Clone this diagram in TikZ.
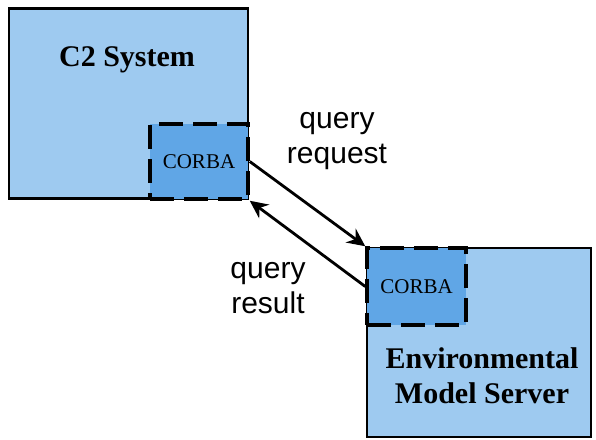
\documentclass[tikz,border=0pt]{standalone}
\usepackage{fontspec}
\setmainfont{Liberation Serif}
\setsansfont{Liberation Sans}
\usetikzlibrary{arrows.meta, positioning}
\definecolor{boxblue}{RGB}{158, 202, 240}
\definecolor{corbablue}{RGB}{96, 166, 230}

\tikzset{
  sysbox/.style={draw=black, line width=2.8pt, fill=boxblue, inner sep=0pt},
  syslabel/.style={font=\bfseries\fontsize{30}{35}\selectfont, align=center},
  corbabox/.style={draw=black, line width=3.5pt, dash pattern=on 24pt off 10pt,
    fill=corbablue, inner sep=0pt, font=\fontsize{21}{24}\selectfont},
  flow/.style={-{Stealth[length=18pt, width=17pt, inset=6pt]}, line width=2.8pt},
  flowlabel/.style={font=\sffamily\fontsize{30}{35}\selectfont, align=center}
}

\begin{document}
\begin{tikzpicture}[x=1pt, y=-1pt]
  % 画布与参考图同尺寸
  \useasboundingbox (0, 0) rectangle (596, 439);

  % C2 系统
  \node[sysbox, minimum width=239pt, minimum height=190pt] (c2) at (128.5, 103.5) {};
  \node[syslabel] (c2label) at (127, 60) {C2 System};
  \node[corbabox, minimum width=98pt, minimum height=75pt] (corbaA) at (199, 161.5) {CORBA};

  % 环境模型服务器
  \node[sysbox, minimum width=224pt, minimum height=189pt] (ems) at (479, 342.5) {};
  \node[corbabox, minimum width=99pt, minimum height=77pt] (corbaB) at (416.5, 286.5) {CORBA};
  \node[syslabel] (emslabel) at (482, 376) {Environmental\\Model Server};

  % 查询请求与结果
  \draw[flow] (corbaA.east) -- (corbaB.north west);
  \draw[flow] (corbaB.west) -- (corbaA.south east);
  \node[flowlabel] (request) at (337, 141) {query\\request};
  \node[flowlabel] (result) at (268, 288) {query\\result};
\end{tikzpicture}
\end{document}
